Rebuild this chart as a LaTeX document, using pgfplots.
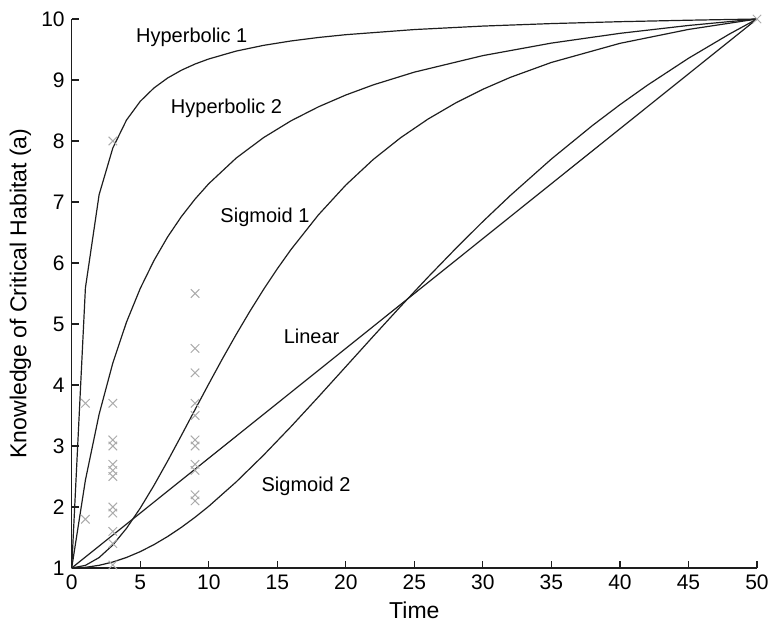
\documentclass[border=0pt]{standalone}
\usepackage{fontspec}
\setmainfont{Liberation Sans}
\usepackage{pgfplots}
\pgfplotsset{compat=1.18}
\definecolor{curve}{HTML}{1E1E1E}
\definecolor{crossc}{HTML}{ABABAB}
\begin{document}
\begin{tikzpicture}
\useasboundingbox (-35.85pt,-29pt) rectangle (348.65pt,284pt);
\begin{axis}[
  at={(0,0)}, anchor=south west,
  scale only axis, width=342.65pt, height=274.5pt,
  xmin=0, xmax=50, ymin=1, ymax=10,
  xtick={0,5,...,50}, ytick={1,2,...,10},
  axis x line*=bottom, axis y line*=left,
  axis line style={-, line width=0.6pt, curve},
  tick align=inside, major tick length=3.5pt,
  tick style={curve, line width=0.6pt},
  ticklabel style={font=\fontsize{10.5}{12}\selectfont},
  /pgf/number format/assume math mode=true,
  xlabel={Time}, ylabel={Knowledge of Critical Habitat (a)},
  label style={font=\fontsize{11.5}{13}\selectfont},
  xlabel style={at={(axis description cs:0.5,-0.0765)}, anchor=center},
  ylabel style={at={(axis description cs:-0.075,0.5)}, anchor=center},
  clip=false,
]
% Hyperbolic 1
\addplot[curve, line width=0.6pt] coordinates {
(0,1) (1,5.59) (2,7.12) (3,7.885) (4,8.344) (5,8.65) (6,8.869) (7,9.033) (8,9.16) (9,9.262) (10,9.345)
(12,9.474) (14,9.568) (16,9.640) (18,9.697) (20,9.743) (25,9.827) (30,9.884) (35,9.925) (40,9.956) (45,9.980) (50,10)};
% Hyperbolic 2
\addplot[curve, line width=0.6pt] coordinates {
(0,1) (1,2.44) (2,3.52) (3,4.36) (4,5.032) (5,5.582) (6,6.04) (7,6.428) (8,6.76) (9,7.048) (10,7.30)
(12,7.72) (14,8.056) (16,8.331) (18,8.56) (20,8.754) (22,8.92) (25,9.129) (30,9.40) (35,9.605) (40,9.765) (45,9.894) (50,10)};
% Sigmoid 1
\addplot[curve, line width=0.6pt] coordinates {
(0,1) (1,1.043) (2,1.171) (3,1.377) (4,1.651) (5,1.981) (6,2.353) (7,2.754) (8,3.172) (9,3.597) (10,4.018)
(11,4.431) (12,4.828) (13,5.208) (14,5.567) (15,5.905) (16,6.221) (18,6.789) (20,7.278) (22,7.697) (24,8.054)
(26,8.360) (28,8.622) (30,8.848) (32,9.043) (35,9.288) (40,9.601) (45,9.829) (50,10)};
% Linear
\addplot[curve, line width=0.6pt] coordinates {(0,1) (50,10)};
% Sigmoid 2
\addplot[curve, line width=0.6pt] coordinates {
(0,1) (1,1.011) (2,1.044) (3,1.098) (4,1.173) (5,1.268) (6,1.383) (7,1.516) (8,1.666) (9,1.832) (10,2.012)
(12,2.411) (14,2.850) (16,3.318) (18,3.805) (20,4.301) (22,4.798) (24,5.289) (26,5.769) (28,6.233) (30,6.680)
(32,7.106) (35,7.705) (38,8.255) (40,8.595) (42,8.914) (45,9.356) (48,9.755) (50,10)};
% observations
\addplot[only marks, mark=x, mark size=3pt, crossc, mark options={line width=0.5pt}] coordinates {
(1,3.7) (1,1.8)
(3,8.0) (3,3.7) (3,3.1) (3,3.0) (3,2.7) (3,2.6) (3,2.5) (3,2.0) (3,1.9) (3,1.6) (3,1.4) (3,1.05)
(9,5.5) (9,4.6) (9,4.2) (9,3.7) (9,3.5) (9,3.1) (9,3.0) (9,2.7) (9,2.6) (9,2.2) (9,2.1)
(50,10)};
\node[font=\fontsize{10}{12}\selectfont] at (axis cs:8.76,9.70) {Hyperbolic 1};
\node[font=\fontsize{10}{12}\selectfont] at (axis cs:11.3,8.54) {Hyperbolic 2};
\node[font=\fontsize{10}{12}\selectfont] at (axis cs:14.1,6.75) {Sigmoid 1};
\node[font=\fontsize{10}{12}\selectfont] at (axis cs:17.5,4.79) {Linear};
\node[font=\fontsize{10}{12}\selectfont] at (axis cs:17.1,2.34) {Sigmoid 2};
\end{axis}
\end{tikzpicture}
\end{document}
